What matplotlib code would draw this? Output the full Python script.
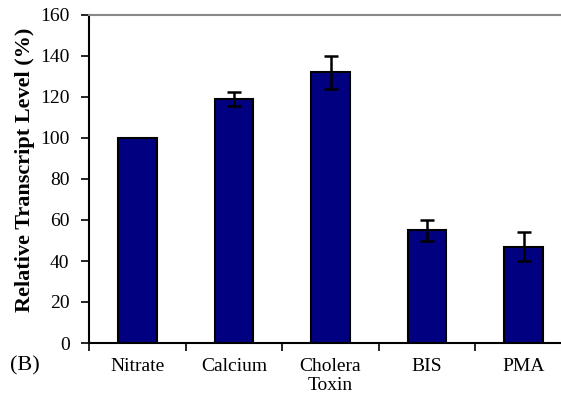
import matplotlib
matplotlib.use("Agg")
import matplotlib.pyplot as plt
import numpy as np

plt.rcParams["font.family"] = ["Liberation Serif", "DejaVu Serif"]

categories = ["Nitrate", "Calcium", "Cholera\nToxin", "BIS", "PMA"]
levels = [100, 119, 132, 55, 47]
errors = [0, 3.5, 8, 5, 7]

fig = plt.figure(figsize=(5.61, 3.93), dpi=100)
# axes run slightly past the right edge of the canvas
ax = fig.add_axes([89 / 561, 1 - 343 / 393, 483 / 561, 328 / 393])

x = np.arange(len(categories))
ax.bar(x, levels, width=0.4, color="#000080", edgecolor="black", linewidth=1.5, zorder=2)
ax.errorbar(x[1:], levels[1:], yerr=errors[1:], fmt="none", ecolor="black",
            elinewidth=1.8, capsize=5, capthick=1.8, zorder=3)

ax.set_xlim(-0.5, len(categories) - 0.5)
ax.set_ylim(0, 160)
ax.set_yticks(np.arange(0, 161, 20))
ax.tick_params(axis="y", labelsize=14, length=6, width=1.2, direction="out", pad=8)

ax.set_xticks(x)
ax.set_xticklabels(categories, fontsize=14, linespacing=1.1)
ax.tick_params(axis="x", length=0, pad=11)
ax.set_xticks(np.arange(len(categories) + 1) - 0.5, minor=True)
ax.tick_params(axis="x", which="minor", length=6, width=1.2, direction="out")

ax.spines["right"].set_visible(False)
ax.spines["top"].set_color("#888888")
ax.spines["top"].set_linewidth(1.5)
ax.spines["left"].set_linewidth(1.5)
ax.spines["bottom"].set_linewidth(1.5)

ax.set_ylabel("Relative Transcript Level (%)", fontsize=16, fontweight="bold")
ax.yaxis.set_label_coords(-0.112, 0.527)
fig.text(25 / 561, 1 - 366 / 393, "(B)", fontsize=16, ha="center", va="center")

fig.savefig("out.png", dpi=100)
